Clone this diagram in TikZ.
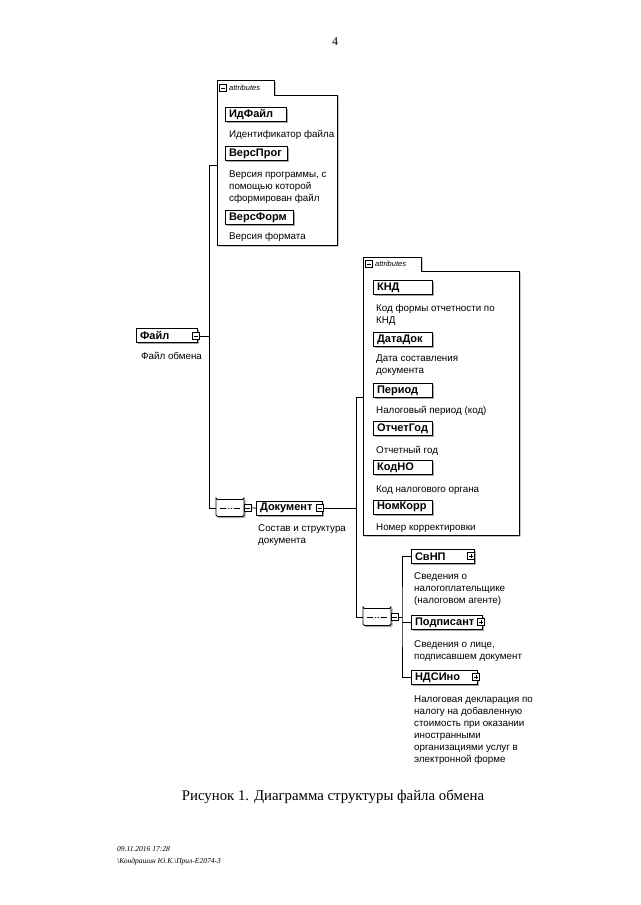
\documentclass[tikz,border=0pt]{standalone}
\usepackage{fontspec}
\setmainfont{Liberation Serif}
\setsansfont{Liberation Sans}
\usetikzlibrary{shadows,shapes.misc}
\begin{document}
\begin{tikzpicture}[x=1pt,y=-1pt]
\tikzset{
 shd/.style={drop shadow={shadow xshift=1.6pt,shadow yshift=-1.6pt,fill=black!35,opacity=1}},
 elbox/.style={draw=black,line width=1.1pt,fill=white,shd,anchor=north west,minimum height=14pt,inner xsep=3.5pt,inner ysep=0pt,text width=#1,align=left,font=\sffamily\bfseries\fontsize{11}{12}\selectfont},
 desc/.style={anchor=base west,inner sep=0pt,align=left,font=\sffamily\fontsize{9.8}{12}\selectfont},
 icon/.style={draw=black,line width=0.5pt,fill=white,minimum size=7pt,inner sep=0pt},
 minusic/.style={icon,path picture={\draw[line width=0.6pt] ([xshift=1.4pt]path picture bounding box.west) -- ([xshift=-1.4pt]path picture bounding box.east);}},
 plusic/.style={icon,path picture={\draw[line width=0.6pt] ([xshift=1.4pt]path picture bounding box.west) -- ([xshift=-1.4pt]path picture bounding box.east) ([yshift=-1.4pt]path picture bounding box.north) -- ([yshift=1.4pt]path picture bounding box.south);}},
 seqbox/.style={chamfered rectangle,chamfered rectangle xsep=5pt,chamfered rectangle ysep=5pt,draw=black,line width=0.9pt,fill=white,shd,minimum width=28pt,minimum height=17pt,inner sep=0pt,rounded corners=1.5pt,
   path picture={\draw[line width=0.7pt] ([xshift=4pt]path picture bounding box.west) -- ([xshift=-4pt]path picture bounding box.east);
     \fill ([xshift=-2.8pt]path picture bounding box.center) circle (1.2pt) (path picture bounding box.center) circle (1.2pt) ([xshift=2.8pt]path picture bounding box.center) circle (1.2pt);}},
 grp/.style={draw=black,line width=0.7pt,fill=white,shd},
 tabtxt/.style={anchor=west,inner sep=0pt,font=\sffamily\itshape\fontsize{7.5}{8}\selectfont},
 conn/.style={line width=0.9pt,black},
}
\useasboundingbox (0,0) rectangle (640,905);
% page number
\node[anchor=base,inner sep=0pt,font=\fontsize{12}{14}\selectfont] (pnum) at (335,45) {4};

% ---- attributes group 1
\draw[grp] (217,245) -- (217,80) -- (274,80) -- (274,95) -- (337,95) -- (337,245) -- cycle;
\node[minusic] (t1i) at (223,88) {};
\node[tabtxt] (t1) at (229,88) {attributes};
\node[elbox=54pt] (idf) at (225,107) {ИдФайл};
\node[desc] (idfd) at (229,137) {Идентификатор файла};
\node[elbox=55pt] (vprog) at (225,146) {ВерсПрог};
\node[desc] (vprogd) at (229,201) {Версия программы, с\\помощью которой\\сформирован файл};
\node[elbox=61pt] (vform) at (225,210) {ВерсФорм};
\node[desc] (vformd) at (229,239) {Версия формата};

% ---- Файл
\node[elbox=54pt] (file) at (136,328) {Файл};
\node[minusic] (fileM) at (196,336) {};
\node[desc] (filed) at (141,359) {Файл обмена};

% ---- sequence 1 and Документ
\node[seqbox] (seq1) at (230,508) {};
\node[minusic] (seq1M) at (247.5,508) {};
\node[elbox=59pt] (doc) at (256,500.5) {Документ};
\node[minusic] (docM) at (320,508) {};
\node[desc] (docd) at (258,543) {Состав и структура\\документа};

\coordinate (g1w) at (217,165);
\coordinate (j1t) at (209,165);
\coordinate (j1b) at (209,508);
\draw[conn] (g1w) -- (j1t) -- (j1b) -- (seq1.west);
\draw[conn] (fileM.east) -- (fileM.east -| j1t);
\draw[conn] (seq1M.east) -- (doc.west);

% ---- attributes group 2
\draw[grp] (363,535) -- (363,257) -- (421,257) -- (421,271) -- (519,271) -- (519,535) -- cycle;
\node[minusic] (t2i) at (369,264) {};
\node[tabtxt] (t2) at (375,264) {attributes};
\node[elbox=52pt] (knd) at (373,280) {КНД};
\node[desc] (kndd) at (376,323) {Код формы отчетности по\\КНД};
\node[elbox=52pt] (datadok) at (373,332) {ДатаДок};
\node[desc] (datadokd) at (376,373) {Дата составления\\документа};
\node[elbox=52pt] (period) at (373,383) {Период};
\node[desc] (periodd) at (376,413) {Налоговый период (код)};
\node[elbox=52pt] (otchet) at (373,421) {ОтчетГод};
\node[desc] (otchetd) at (376,453) {Отчетный год};
\node[elbox=52pt] (kodno) at (373,460) {КодНО};
\node[desc] (kodnod) at (376,492) {Код налогового органа};
\node[elbox=52pt] (nomkorr) at (373,499.5) {НомКорр};
\node[desc] (nomkorrd) at (376,530) {Номер корректировки};

% ---- sequence 2 and children
\node[seqbox] (seq2) at (377,617) {};
\node[minusic] (seq2M) at (394.5,617) {};
\node[elbox=56pt] (svnp) at (411,549) {СвНП};
\node[plusic] (svnpP) at (471,556) {};
\node[desc] (svnpd) at (414,603) {Сведения о\\налогоплательщике\\(налоговом агенте)};
\node[elbox=64pt] (podp) at (411,615) {Подписант};
\node[plusic] (podpP) at (481,622) {};
\node[desc] (podpd) at (414,659) {Сведения о лице,\\подписавшем документ};
\node[elbox=59pt] (nds) at (411,670) {НДСИно};
\node[plusic] (ndsP) at (476,677) {};
\node[desc] (ndsd) at (414,762) {Налоговая декларация по\\налогу на добавленную\\стоимость при оказании\\иностранными\\организациями услуг в\\электронной форме};

\coordinate (j2t) at (356,397);
\coordinate (j2m) at (356,508);
\coordinate (j2b) at (356,617);
\coordinate (g2w) at (363,397);
\draw[conn] (docM.east) -- (j2m);
\draw[conn] (g2w) -- (j2t) -- (j2b) -- (seq2.west);
\coordinate (j3) at (402,617);
\draw[conn] (seq2M.east) -- (j3);
\draw[conn] (svnp.west) -| (j3) |- (nds.west);
\draw[conn] (podp.west) -- (podp.west -| j3);

% ---- caption and footer
\node[anchor=base,inner sep=0pt,font=\fontsize{14.8}{18}\selectfont] (cap) at (333,800) {Рисунок 1. Диаграмма структуры файла обмена};
\node[anchor=base west,inner sep=0pt,align=left,font=\itshape\fontsize{7.5}{12}\selectfont] (foot) at (117,863) {09.11.2016 17:28\\\textbackslash Кондрашин Ю.К.\textbackslash Прил-Е2074-3};
\end{tikzpicture}
\end{document}
